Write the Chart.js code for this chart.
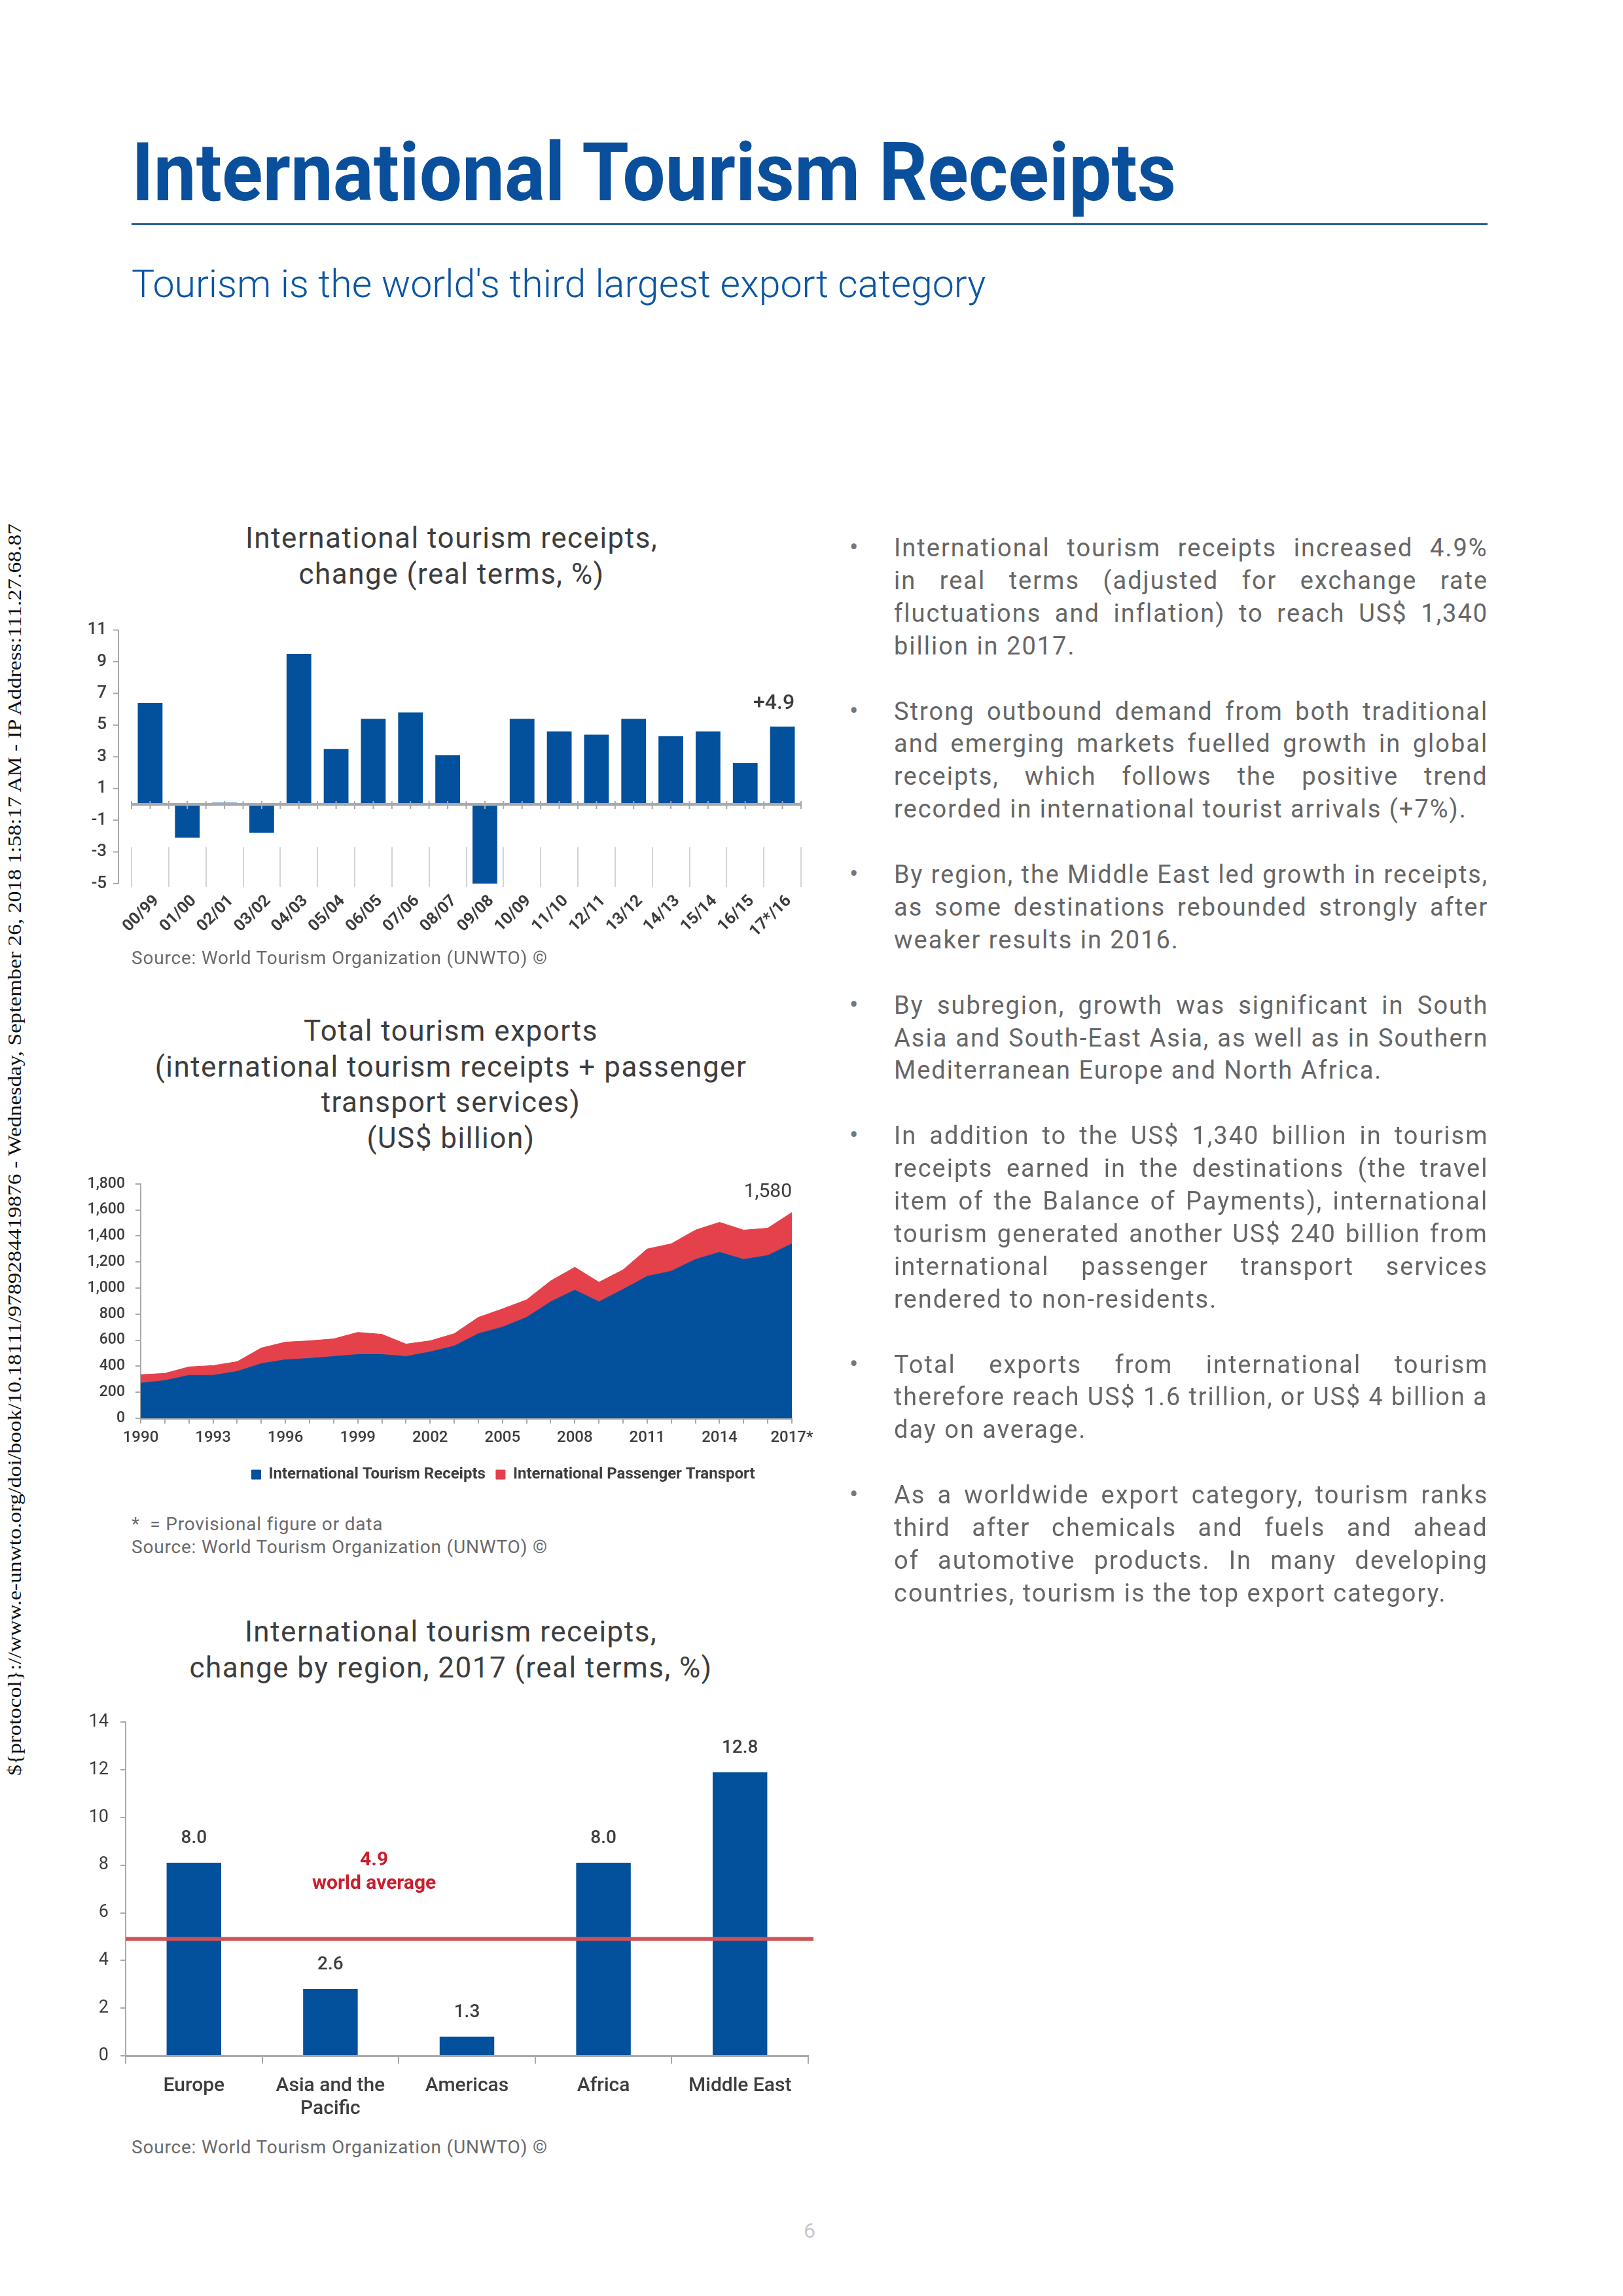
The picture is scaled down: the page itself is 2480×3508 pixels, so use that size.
<!DOCTYPE html>
<html>
<head>
<meta charset="utf-8">
<title>International Tourism Receipts</title>
<script src="https://cdn.jsdelivr.net/npm/chart.js@4.4.1/dist/chart.umd.min.js"></script>
<style>
  html, body { margin: 0; padding: 0; background: #fff; }
  body { position: relative; width: 2480px; height: 3508px; overflow: hidden; font-family: Roboto, "Open Sans", sans-serif; }
  .abs { position: absolute; white-space: nowrap; transform-origin: 0 0; }
  .ctitle { position: absolute; width: 1000px; text-align: center; font-size: 44px; letter-spacing: 1.5px; color: #3d3d3d; }
  .src { position: absolute; left: 201px; font-size: 28px; line-height: 28px; letter-spacing: 0.8px; color: #6a6a6a; white-space: nowrap; }
  .ln { position: absolute; white-space: nowrap; font-size: 38px; line-height: 50px; letter-spacing: 2px; color: #666; transform-origin: 0 0; }
  .bul { position: absolute; font-size: 40px; line-height: 50px; color: #777; }
  canvas { position: absolute; }
</style>
</head>
<body>

<div class="abs" id="title" style="left:201px; top:202px; font-size:124px; line-height:124px; font-weight:700; color:#0a4f9c;">International Tourism Receipts</div>
<div class="abs" style="left:201px; top:341px; width:2072px; height:3px; background:#2a5f98;"></div>
<div class="abs" id="subtitle" style="left:201px; top:404px; font-size:59px; line-height:59px; font-weight:300; color:#0b56a3;">Tourism is the world's third largest export category</div>

<div class="abs" id="side" style="left:7px; top:2713px; font-family:'Liberation Serif', 'DejaVu Serif', serif; font-size:30px; line-height:30px; color:#111;">${protocol}://www.e-unwto.org/doi/book/10.18111/9789284419876 - Wednesday, September 26, 2018 1:58:17 AM - IP Address:111.27.68.87</div>

<div class="ctitle" style="left:190px; top:795px; line-height:55px;">International tourism receipts,<br>change (real terms, %)</div>
<canvas id="changeChart" width="1139" height="541" style="left:101px; top:909px;"></canvas>
<div class="src" style="top:1450px;">Source: World Tourism Organization (UNWTO) ©</div>

<div class="ctitle" style="left:189px; top:1548px; line-height:54.7px;">Total tourism exports<br>(international tourism receipts + passenger<br>transport services)<br>(US$ billion)</div>
<canvas id="exportsChart" width="1308" height="496" style="left:115px; top:1779px;"></canvas>
<div class="src" style="top:2315px;">*&nbsp;&nbsp;= Provisional figure or data</div>
<div class="src" style="top:2350px;">Source: World Tourism Organization (UNWTO) ©</div>

<div class="ctitle" style="left:189px; top:2466px; line-height:55px;">International tourism receipts,<br>change by region, 2017 (real terms, %)</div>
<canvas id="regionChart" width="1153" height="654" style="left:102px; top:2597px;"></canvas>
<div class="src" style="top:3267px;">Source: World Tourism Organization (UNWTO) ©</div>

<div class="abs" style="left:1228px; top:3392px; font-size:32px; line-height:32px; color:#c8c8c8;">6</div>

<script>
// chart 1: yearly change, real terms (%)
const periodLabels = ['00/99', '01/00', '02/01', '03/02', '04/03', '05/04', '06/05', '07/06', '08/07',
  '09/08', '10/09', '11/10', '12/11', '13/12', '14/13', '15/14', '16/15', '17*/16'];
const receiptsChange = [6.4, -2.1, 0.1, -1.8, 9.5, 3.5, 5.4, 5.8, 3.1, -5.0, 5.4, 4.6, 4.4, 5.4, 4.3, 4.6, 2.6, 4.9];
const changeNote = '+4.9';

// chart 2: total tourism exports (US$ billion)
const exportYears = ['1990', '1991', '1992', '1993', '1994', '1995', '1996', '1997', '1998', '1999',
  '2000', '2001', '2002', '2003', '2004', '2005', '2006', '2007', '2008', '2009',
  '2010', '2011', '2012', '2013', '2014', '2015', '2016', '2017*'];
const receiptsBn = [270, 290, 330, 330, 360, 420, 450, 460, 475, 490, 490, 475, 510, 555, 650, 700,
  775, 895, 985, 895, 990, 1090, 1130, 1220, 1275, 1220, 1250, 1340];
const transportBn = [65, 55, 65, 75, 75, 120, 135, 135, 135, 170, 155, 95, 85, 95, 125, 140,
  135, 160, 175, 150, 150, 210, 210, 225, 230, 225, 210, 240];
const totalNote = '1,580';

// chart 3: change by region 2017 (bar heights as drawn, printed labels)
const regions = ['Europe', ['Asia and the', 'Pacific'], 'Americas', 'Africa', 'Middle East'];
const regionChange = [8.1, 2.8, 0.8, 8.1, 11.9];
const regionNotes = ['8.0', '2.6', '1.3', '8.0', '12.8'];
const worldAverage = 4.9;

const bodyParagraphs = [
  ['International tourism receipts increased 4.9%',
   'in real terms (adjusted for exchange rate',
   'fluctuations and inflation) to reach US$ 1,340',
   'billion in 2017.'],
  ['Strong outbound demand from both traditional',
   'and emerging markets fuelled growth in global',
   'receipts, which follows the positive trend',
   'recorded in international tourist arrivals (+7%).'],
  ['By region, the Middle East led growth in receipts,',
   'as some destinations rebounded strongly after',
   'weaker results in 2016.'],
  ['By subregion, growth was significant in South',
   'Asia and South-East Asia, as well as in Southern',
   'Mediterranean Europe and North Africa.'],
  ['In addition to the US$ 1,340 billion in tourism',
   'receipts earned in the destinations (the travel',
   'item of the Balance of Payments), international',
   'tourism generated another US$ 240 billion from',
   'international passenger transport services',
   'rendered to non-residents.'],
  ['Total exports from international tourism',
   'therefore reach US$ 1.6 trillion, or US$ 4 billion a',
   'day on average.'],
  ['As a worldwide export category, tourism ranks',
   'third after chemicals and fuels and ahead',
   'of automotive products. In many developing',
   'countries, tourism is the top export category.']
];

const BLUE = '#03509c';
const RED = '#e4414b';
const AXIS = '#a9a9a9';
const TEXT = '#3d3d3d';

function fitWidth(el, width, prefix) {
  const natural = el.offsetWidth;
  el.style.transform = (prefix || '') + ' scaleX(' + (width / natural) + ')';
}

function layoutText() {
  fitWidth(document.getElementById('title'), 1596);
  fitWidth(document.getElementById('subtitle'), 1305);
  fitWidth(document.getElementById('side'), 1913, 'rotate(-90deg)');

  const left = 1366, width = 906, first = 837, step = 49.9;
  let row = 0;
  bodyParagraphs.forEach(lines => {
    lines.forEach((line, i) => {
      const cy = first + row * step;
      if (i === 0) {
        const b = document.createElement('div');
        b.className = 'bul';
        b.textContent = '•';
        b.style.left = '1298px';
        b.style.top = (cy - 25) + 'px';
        document.body.appendChild(b);
      }
      const el = document.createElement('div');
      el.className = 'ln';
      el.textContent = line;
      el.style.left = left + 'px';
      el.style.top = (cy - 25) + 'px';
      document.body.appendChild(el);
      const w = el.offsetWidth - 2;
      const gaps = line.split(' ').length - 1;
      if (w > width) {
        el.style.transform = 'scaleX(' + (width / w) + ')';
      } else if (i < lines.length - 1 && gaps) {
        el.style.wordSpacing = ((width - w) / gaps) + 'px';
      }
      row++;
    });
    row++;
  });
}

Chart.defaults.font.family = 'Roboto, "Open Sans", sans-serif';
Chart.defaults.color = TEXT;

// long category ticks, offset value axis, zero line and the last-bar note
const changeDecor = {
  id: 'changeDecor',
  beforeDatasetsDraw(chart) {
    const { ctx, chartArea: a, scales: { x, y } } = chart;
    ctx.save();
    ctx.strokeStyle = '#d3d3d3';
    ctx.lineWidth = 2;
    const top = y.getPixelForValue(-2.7);
    for (let i = 0; i <= periodLabels.length; i++) {
      const px = Math.round(x.getPixelForValue(i - 0.5));
      ctx.beginPath(); ctx.moveTo(px, top); ctx.lineTo(px, a.bottom + 5); ctx.stroke();
    }
    const ax = a.left - 20;
    ctx.strokeStyle = AXIS;
    ctx.beginPath(); ctx.moveTo(ax, a.top); ctx.lineTo(ax, a.bottom); ctx.stroke();
    y.ticks.forEach(t => {
      const py = y.getPixelForValue(t.value);
      ctx.beginPath(); ctx.moveTo(ax - 8, py); ctx.lineTo(ax, py); ctx.stroke();
    });
    ctx.restore();
  },
  afterDatasetsDraw(chart) {
    const { ctx, chartArea: a, scales: { x, y } } = chart;
    const y0 = y.getPixelForValue(0);
    ctx.save();
    ctx.strokeStyle = AXIS;
    ctx.lineWidth = 4;
    ctx.beginPath(); ctx.moveTo(a.left, y0); ctx.lineTo(a.right, y0); ctx.stroke();
    ctx.lineWidth = 2;
    for (let i = 0; i <= periodLabels.length * 2; i++) {
      const px = x.getPixelForValue(i / 2 - 0.5);
      ctx.beginPath(); ctx.moveTo(px, y0 - 5); ctx.lineTo(px, y0 + 7); ctx.stroke();
    }
    const last = chart.getDatasetMeta(0).data[receiptsChange.length - 1];
    ctx.fillStyle = TEXT;
    ctx.font = '500 32px Roboto';
    ctx.textAlign = 'center';
    ctx.textBaseline = 'middle';
    ctx.fillText(changeNote, last.x - 13, last.y - 35);
    ctx.restore();
  }
};

const totalDecor = {
  id: 'totalDecor',
  afterDatasetsDraw(chart) {
    const { ctx } = chart;
    const pts = chart.getDatasetMeta(1).data;
    const pt = pts[pts.length - 1];
    ctx.save();
    ctx.fillStyle = TEXT;
    ctx.font = '30px Roboto';
    ctx.textAlign = 'right';
    ctx.textBaseline = 'middle';
    ctx.fillText(totalNote, pt.x, pt.y - 31);
    ctx.restore();
  }
};

const regionDecor = {
  id: 'regionDecor',
  afterDatasetsDraw(chart) {
    const { ctx, chartArea: a, scales: { x, y } } = chart;
    ctx.save();
    ctx.textAlign = 'center';
    ctx.textBaseline = 'middle';
    ctx.fillStyle = TEXT;
    ctx.font = '500 28px Roboto';
    chart.getDatasetMeta(0).data.forEach((bar, i) => {
      ctx.fillText(regionNotes[i], bar.x, bar.y - 37);
    });
    const ay = y.getPixelForValue(worldAverage);
    ctx.strokeStyle = '#cd5358';
    ctx.lineWidth = 6;
    ctx.beginPath(); ctx.moveTo(a.left, ay); ctx.lineTo(a.right + 8, ay); ctx.stroke();
    ctx.fillStyle = '#c8202e';
    ctx.font = 'bold 30px Roboto';
    const lx = x.getPixelForValue(1.32);
    ctx.fillText(worldAverage.toFixed(1), lx, y.getPixelForValue(8.2));
    ctx.fillText('world average', lx, y.getPixelForValue(7.2));
    ctx.restore();
  }
};

document.addEventListener('DOMContentLoaded', function() {
  layoutText();

  new Chart(document.getElementById('changeChart'), {
    type: 'bar',
    data: {
      labels: periodLabels,
      datasets: [{ data: receiptsChange, backgroundColor: BLUE, barPercentage: 0.665, categoryPercentage: 1 }]
    },
    options: {
      responsive: false,
      animation: false,
      layout: { padding: { top: 20, right: 16, left: 0, bottom: 0 } },
      plugins: { legend: { display: false }, tooltip: { enabled: false } },
      scales: {
        x: {
          grid: { display: false, drawTicks: false },
          border: { display: false },
          ticks: { minRotation: 45, maxRotation: 45, autoSkip: false, padding: 12, labelOffset: 10, color: TEXT,
                   font: { size: 25, weight: 'bold' } },
          afterFit: s => { s.height = 100; }
        },
        y: {
          min: -5, max: 11,
          grid: { display: false, drawTicks: false },
          border: { display: false },
          ticks: { stepSize: 2, padding: 38, color: TEXT, font: { size: 26, weight: '500' } },
          afterFit: s => { s.width = 100; }
        }
      }
    },
    plugins: [changeDecor]
  });

  new Chart(document.getElementById('exportsChart'), {
    type: 'line',
    data: {
      labels: exportYears,
      datasets: [
        { label: 'International Tourism Receipts', data: receiptsBn, backgroundColor: BLUE, borderColor: BLUE,
          borderWidth: 1, fill: 'origin', pointRadius: 0, tension: 0 },
        { label: 'International Passenger Transport', data: transportBn, backgroundColor: RED, borderColor: RED,
          borderWidth: 1, fill: '-1', pointRadius: 0, tension: 0 }
      ]
    },
    options: {
      responsive: false,
      animation: false,
      layout: { padding: { top: 20, right: 0, left: 0, bottom: 0 } },
      plugins: {
        legend: {
          position: 'bottom',
          labels: { boxWidth: 14, boxHeight: 14, padding: 16, color: TEXT, font: { size: 24, weight: 'bold' } }
        },
        tooltip: { enabled: false }
      },
      scales: {
        x: {
          grid: { drawOnChartArea: false, tickLength: 8, color: AXIS, lineWidth: 2 },
          border: { color: AXIS, width: 3 },
          ticks: { autoSkip: false, maxRotation: 0, padding: 8, color: TEXT, font: { size: 24, weight: '500' },
                   callback: (v, i) => (i % 3 === 0 ? exportYears[i] : '') },
          afterFit: s => { s.height = 58; }
        },
        y: {
          stacked: true,
          min: 0, max: 1800,
          grid: { drawOnChartArea: false, tickLength: 8, color: AXIS, lineWidth: 2 },
          border: { color: AXIS, width: 2 },
          ticks: { stepSize: 200, padding: 16, color: TEXT, font: { size: 23, weight: '500' },
                   callback: v => v.toLocaleString('en-US') },
          afterFit: s => { s.width = 100; }
        },
        pad: {
          position: 'right',
          grid: { display: false },
          border: { display: false },
          ticks: { display: false },
          afterFit: s => { s.width = 213; }
        }
      }
    },
    plugins: [totalDecor]
  });

  new Chart(document.getElementById('regionChart'), {
    type: 'bar',
    data: {
      labels: regions,
      datasets: [{ data: regionChange, backgroundColor: BLUE, barPercentage: 0.4, categoryPercentage: 1 }]
    },
    options: {
      responsive: false,
      animation: false,
      layout: { padding: { top: 20, right: 20, left: 0, bottom: 0 } },
      plugins: { legend: { display: false }, tooltip: { enabled: false } },
      scales: {
        x: {
          grid: { drawOnChartArea: false, tickLength: 12, color: AXIS, lineWidth: 2 },
          border: { color: AXIS, width: 3 },
          ticks: { padding: 17, color: TEXT, font: { size: 30, weight: '500', lineHeight: 1.17 } },
          afterFit: s => { s.height = 110; }
        },
        y: {
          min: 0, max: 14,
          grid: { drawOnChartArea: false, tickLength: 8, color: AXIS, lineWidth: 2 },
          border: { color: AXIS, width: 2 },
          ticks: { stepSize: 2, padding: 18, color: TEXT, font: { size: 27 } },
          afterFit: s => { s.width = 90; }
        }
      }
    },
    plugins: [regionDecor]
  });
});
</script>
</body>
</html>
